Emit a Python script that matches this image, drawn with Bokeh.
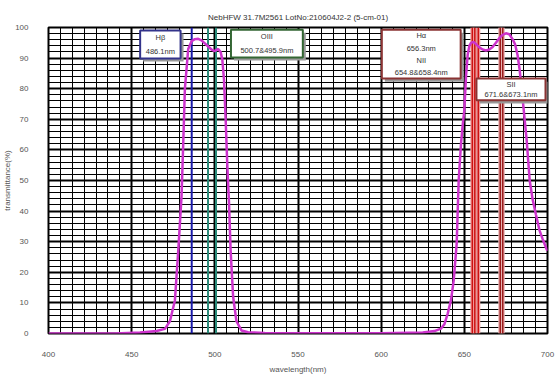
from bokeh.plotting import figure
from bokeh.models import Range1d, SingleIntervalTicker
from bokeh.core.properties import value
from bokeh.embed import file_html
from bokeh.resources import INLINE

# ---- data ----
wavelength = [400, 440, 455, 465, 470, 473, 476, 478, 480, 481, 482, 484, 486, 488,
              490, 492, 494, 496, 498, 500, 502, 503.5, 504.5, 505.5, 506.5, 507.5,
              508.5, 509.5, 511, 513, 516, 520, 530, 560, 600, 625, 632, 636, 638,
              640, 642, 643.6, 645.4, 646.6, 648, 649, 650, 651, 652, 653, 654,
              655.5, 657, 659, 661, 663, 665, 667, 669, 671, 673, 675, 677, 679,
              680.5, 682, 683.3, 685, 687.5, 689.3, 691, 693, 695.2, 697, 699.3, 700]
transmittance = [0, 0, 0.3, 0.8, 1.5, 4, 10.8, 27, 45, 62, 80, 93, 95.5, 96.2,
                 96.3, 95.8, 94.8, 93.8, 92.8, 92.3, 93, 92, 89.5, 83, 70, 55,
                 43, 27, 12, 4, 1, 0.4, 0.2, 0.1, 0.1, 0.3, 0.8, 1.6, 3,
                 6.5, 11, 17.3, 29.4, 50, 62, 68, 73, 84, 91, 94, 95,
                 95.3, 94.6, 93.5, 92.8, 92.5, 92.8, 93.6, 95, 96.5, 97.6, 98.1, 97.8, 96.2,
                 94.5, 91, 86, 77, 63, 50, 44, 39, 33.7, 31, 27.8, 27]

hbeta_lines = [486.1]
oiii_lines = [495.9, 500.7]
halpha_nii_lines = [654.8, 656.3, 658.4]
sii_lines = [671.6, 673.1]

x_ticks_interval = 50
y_ticks_interval = 10

title_text = "NebHFW 31.7M2561 LotNo:210604J2-2 (5-cm-01)"
x_label = "wavelength(nm)"
y_label = "transmittance(%)"

# annotation boxes: (texts, border colour, left, right, bottom, top)
boxes = [
    (["H\u03b2", "486.1nm"], "#33338a", 455.1, 479.4, 89.9, 99.0),
    (["OIII", "500.7&495.9nm"], "#336633", 509.7, 552.9, 90.2, 99.3),
    (["H\u03b1", "656.3nm", "NII", "654.8&658.4nm"], "#8a3333", 600.4, 647.8, 83.3, 99.3),
    (["SII", "671.6&673.1nm"], "#8a3333", 657.3, 698.8, 76.2, 83.3),
]

FONT = "Liberation Sans"

p = figure(width=560, height=382, output_backend="svg", toolbar_location=None,
           x_range=Range1d(400, 700), y_range=Range1d(0, 100),
           min_border_left=42, min_border_right=13, min_border_top=27,
           min_border_bottom=49)
p.outline_line_color = "black"
p.outline_line_width = 2
p.background_fill_color = "white"

p.title.text = title_text
p.title.align = "center"
p.title.offset = -16
p.title.text_font = FONT
p.title.text_font_size = "8px"
p.title.text_font_style = "normal"
p.title.text_color = "#333333"
p.title.standoff = 12

xt = SingleIntervalTicker(interval=x_ticks_interval, num_minor_ticks=7)
yt = SingleIntervalTicker(interval=y_ticks_interval, num_minor_ticks=5)
p.xaxis.ticker = xt
p.yaxis.ticker = yt
for ax in (p.xaxis, p.yaxis):
    ax.axis_line_color = None
    ax.major_tick_line_color = None
    ax.minor_tick_line_color = None
    ax.major_label_text_font = FONT
    ax.major_label_text_font_size = "8px"
    ax.major_label_text_color = "#555555"
    ax.axis_label_text_font = FONT
    ax.axis_label_text_font_size = "8px"
    ax.axis_label_text_font_style = "normal"
    ax.axis_label_text_color = "#555555"
p.xaxis.major_label_standoff = 12
p.xaxis.axis_label = x_label
p.xaxis.axis_label_standoff = 5
p.yaxis.major_label_standoff = 14
p.yaxis.axis_label = y_label
p.yaxis.axis_label_standoff = 0

for g in (p.xgrid, p.ygrid):
    g.grid_line_color = "black"
    g.grid_line_width = 2
    g.grid_line_alpha = 1
    g.minor_grid_line_color = "black"
    g.minor_grid_line_width = 1

# emission lines (glyphs, drawn under curve and boxes)
def vlines(xs, color, width):
    p.segment(x0=xs, y0=[0] * len(xs), x1=xs, y1=[100] * len(xs),
              line_color=color, line_width=width)

vlines(halpha_nii_lines, "#f2a0a0", 4)
vlines(halpha_nii_lines, "#cc1111", 1.5)
vlines(sii_lines, "#e8b0b0", 4)
vlines(sii_lines, "#9a1a1a", 1.5)
vlines(oiii_lines, "#2a8a7a", 2)
vlines(hbeta_lines, "#1a1aaa", 2)

# transmission curve
p.line(wavelength, transmittance, line_color="#cc33cc", line_width=2.5)

# boxes
for texts, col, l, r, b, t in boxes:
    dx, dy = 1.8, 1.0
    p.quad(left=l + dx, right=r + dx, bottom=b - dy, top=t - dy,
           fill_color="#999999", line_color=None)
    p.quad(left=l, right=r, bottom=b, top=t, fill_color="white",
           line_color=col, line_width=2)
    n = len(texts)
    step = (t - b) / n
    xs = [(l + r) / 2] * n
    ys = [t - step * (i + 0.5) for i in range(n)]
    p.text(xs, ys, text=texts, text_align="center", text_baseline="middle",
           text_font=value(FONT), text_font_size="7.5px", text_color="#333333")

open("out.html", "w").write(file_html(p, INLINE))
